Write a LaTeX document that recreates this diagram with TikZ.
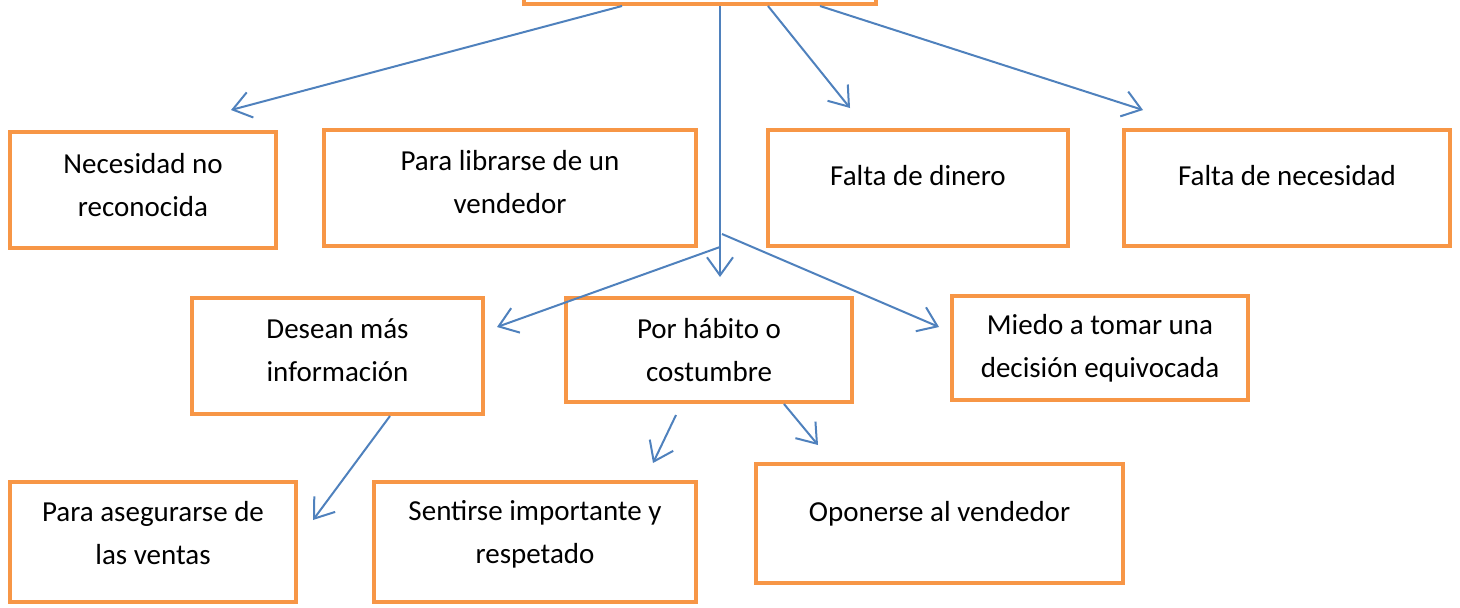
\documentclass[tikz,border=0pt]{standalone}
\usepackage{fontspec}
\setmainfont{Carlito}
\usepackage{xcolor}
\usepackage{tikz}
\usetikzlibrary{calc,arrows.meta}

\definecolor{naranja}{HTML}{F79646}
\definecolor{azul}{HTML}{4F81BD}

\tikzset{
	caja/.style={draw=naranja, line width=2pt, fill=white, align=center,
		font=\fontsize{14.5}{21.5}\selectfont, inner sep=0pt},
	subir/.style={execute at end node={\rule[-#1]{0pt}{0pt}}},
	flecha/.style={draw=azul, line width=1pt, -{Straight Barb[length=9pt,width=13pt]}}
}

\begin{document}
\begin{tikzpicture}[x=0.5pt,y=-0.5pt]
			\useasboundingbox (0,0) rectangle (1460,607);

			% cajas
			\node[caja, minimum width=176pt, minimum height=31pt] (top) at (700,-27) {};
			\node[caja, subir=5pt, minimum width=133pt, minimum height=58pt] (necesidad) at (143,190) {Necesidad no\\reconocida};
			\node[caja, subir=6pt, minimum width=186pt, minimum height=58pt] (librarse) at (510,188) {Para librarse de un\\vendedor};
			\node[caja, subir=13pt, minimum width=150pt, minimum height=58pt] (dinero) at (918,188) {Falta de dinero};
			\node[caja, subir=13pt, minimum width=163pt, minimum height=58pt] (faltanec) at (1287,188) {Falta de necesidad};
			\node[caja, subir=6pt, minimum width=145.5pt, minimum height=58pt] (desean) at (337.5,356) {Desean más\\información};
			\node[caja, minimum width=143pt, minimum height=52pt] (habito) at (709,350) {Por hábito o\\costumbre};
			\node[caja, minimum width=148pt, minimum height=52pt] (miedo) at (1100,348) {Miedo a tomar una\\decisión equivocada};
			\node[caja, subir=9pt, minimum width=143pt, minimum height=60pt] (asegurarse) at (153,542) {Para asegurarse de\\las ventas};
			\node[caja, subir=10pt, minimum width=161pt, minimum height=60pt] (sentirse) at (535,542) {Sentirse importante y\\respetado};
			\node[caja, subir=12pt, minimum width=183.5pt, minimum height=59.5pt] (oponerse) at (939.5,523.5) {Oponerse al vendedor};

			% puntas libres
			\coordinate (pNec) at (231,110);
			\coordinate (pDin) at (850,108);
			\coordinate (pFal) at (1143,110);
			\coordinate (pBaja) at (720,277);
			\coordinate (rIzq) at (720,247);
			\coordinate (rDer) at (722,234);
			\coordinate (pDes) at (497,327);
			\coordinate (pMie) at (939,327);
			\coordinate (pAse) at (313,520);
			\coordinate (pSen) at (653,463);
			\coordinate (pOpo) at (818,445);

			% flechas
			\draw[flecha] ($(top.south)+(-78,0)$) -- (pNec);
			\draw[flecha] ($(top.south)+(20,0)$) -- (pBaja);
			\draw[flecha] ($(top.south)+(68,0)$) -- (pDin);
			\draw[flecha] ($(top.south)+(120,0)$) -- (pFal);
			\draw[flecha] (rIzq) -- (pDes);
			\draw[flecha] (rDer) -- (pMie);
			\draw[flecha] ($(desean.south)+(52.5,0)$) -- (pAse);
			\draw[flecha] ($(habito.south)+(-33,11)$) -- (pSen);
			\draw[flecha] ($(habito.south)+(75,0)$) -- (pOpo);
		\end{tikzpicture}
\end{document}
